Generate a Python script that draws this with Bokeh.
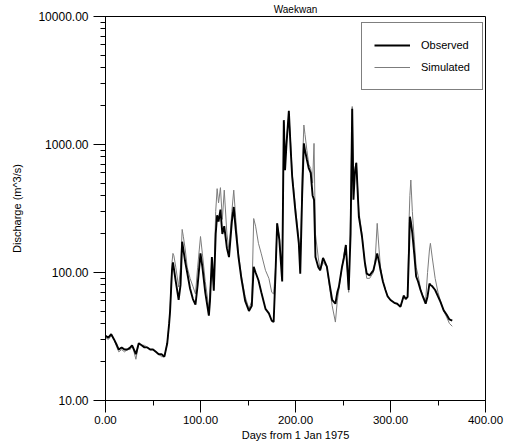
import math
from bokeh.plotting import figure
from bokeh.models import (LogTicker, SingleIntervalTicker, PrintfTickFormatter,
                          Legend, LegendItem, Range1d)
from bokeh.embed import file_html
from bokeh.resources import INLINE

title_text = "Waekwan"
x_label = "Days from 1 Jan 1975"
y_label = "Discharge (m^3/s)"
series_names = ["Observed", "Simulated"]

days = [0, 3, 6, 9, 12, 14, 17, 20, 23, 26, 28, 30, 32, 35, 38, 41, 44, 47, 50, 53,
        56, 59, 62, 65, 67, 68, 70, 71, 72, 74, 77, 79, 80.7, 82, 84, 86, 89, 92, 94.7, 97,
        100, 102, 105, 108.8, 110, 112, 114, 116, 117.5, 119, 121, 123, 125, 127.8, 130, 133, 135, 137, 140, 143,
        147, 151, 154, 156, 158, 161, 164, 168.4, 172, 175, 177, 179, 180.7, 183, 186, 187.7, 189, 190.5, 193, 195,
        196.5, 200, 203.5, 205, 207, 208.8, 210, 212, 214, 216, 218, 219.5, 221, 224, 226, 229, 233, 236, 238.6, 242,
        244, 245.6, 249, 251, 253, 256, 258, 259.7, 261, 262.5, 264, 266.7, 270, 273, 275, 278, 282, 284, 286, 288,
        289.5, 292, 294.7, 297, 300, 304, 307, 310.5, 314, 316, 318, 319.5, 320.4, 321.4, 323, 325, 327, 329, 331.6, 334,
        337, 339, 341, 342, 344, 347, 350, 352.6, 356, 359, 362, 365]

observed = [32, 31, 33, 30, 27, 25, 26, 25, 25, 26, 27, 25, 23, 28, 27, 26, 26, 25, 25, 24,
            23, 23, 22, 28, 40, 50, 104, 120, 107, 85, 61, 80, 174, 150, 120, 100, 75, 62, 56, 80,
            141, 110, 70, 46, 60, 132, 72, 200, 280, 250, 310, 200, 230, 155, 132, 250, 325, 220, 132, 90,
            60, 50, 55, 111, 100, 87, 70, 52, 48, 42, 41, 100, 242, 180, 85, 1550, 630, 1000, 1830, 900,
            560, 295, 169, 98, 400, 1020, 900, 760, 650, 600, 400, 370, 132, 110, 104, 130, 111, 80, 61, 57,
            70, 77, 111, 130, 164, 73, 200, 1900, 370, 600, 720, 273, 191, 120, 98, 95, 104, 120, 141, 120,
            104, 85, 73, 65, 61, 58, 57, 54, 66, 62, 64.5, 150, 273, 250, 202, 140, 93, 85, 73, 65,
            57, 65, 82, 80, 78, 73, 65, 59, 50.6, 47, 43, 42]

simulated = [31, 30, 32, 30, 26, 24, 25, 24, 25, 25, 27, 24, 21, 28, 27, 27, 26, 25, 25, 24,
             23, 22, 22, 28, 40, 52, 120, 141, 135, 110, 77, 110, 217, 190, 150, 110, 90, 78, 68, 110,
             191, 140, 85, 53, 70, 110, 80, 300, 452, 350, 460, 260, 440, 200, 150, 300, 440, 270, 140, 95,
             65, 52, 60, 264, 230, 169, 140, 104, 90, 70, 68, 110, 242, 190, 95, 1500, 700, 1100, 1700, 1000,
             600, 320, 180, 105, 600, 1420, 1200, 900, 700, 650, 500, 1020, 200, 130, 104, 120, 111, 75, 55, 41,
             60, 73, 111, 140, 164, 70, 300, 1980, 500, 650, 720, 300, 200, 115, 90, 90, 100, 130, 242, 150,
             110, 85, 73, 65, 61, 58, 57, 54, 66, 62, 65, 250, 400, 528, 300, 180, 110, 95, 75, 66,
             60, 100, 150, 169, 130, 90, 70, 60, 50, 45, 40, 38]

FONT = "Liberation Sans"

p = figure(width=505, height=445, y_axis_type="log",
           x_range=Range1d(0, 400), y_range=Range1d(10, 10000),
           output_backend="svg", toolbar_location=None,
           min_border_left=105, min_border_right=20, min_border_top=16, min_border_bottom=45)
p.title.text = title_text
p.title.align = "center"
p.title.text_font = FONT
p.title.text_font_size = "10px"
p.title.text_font_style = "normal"
p.title.text_color = "black"
p.title.standoff = 3
p.title.offset = 0
p.background_fill_color = "white"
p.border_fill_color = "white"
p.outline_line_color = "black"
p.outline_line_width = 1
p.outline_line_alpha = 1.0
p.xgrid.visible = False
p.ygrid.visible = False

r_sim = p.line(days, simulated, line_color="#7c7c7c", line_width=1)
r_obs = p.line(days, observed, line_color="black", line_width=1.9)

p.xaxis.ticker = SingleIntervalTicker(interval=100, num_minor_ticks=2)
p.xaxis.formatter = PrintfTickFormatter(format="%.2f")
p.yaxis.ticker = LogTicker(num_minor_ticks=10)
p.yaxis.formatter = PrintfTickFormatter(format="%.2f")
for ax in (p.xaxis[0], p.yaxis[0]):
    ax.axis_line_color = "black"
    ax.major_tick_line_color = "black"
    ax.minor_tick_line_color = "black"
    ax.major_tick_in = 0
    ax.major_tick_out = 12
    ax.minor_tick_in = 0
    ax.minor_tick_out = 5
    ax.major_label_text_font = FONT
    ax.major_label_text_color = "black"
    ax.axis_label_text_font = FONT
    ax.axis_label_text_font_style = "normal"
    ax.axis_label_text_font_size = "11px"
    ax.axis_label_text_color = "black"
p.xaxis.major_label_text_font_size = "11.5px"
p.xaxis.major_label_standoff = 3
p.xaxis.axis_label = x_label
p.xaxis.axis_label_standoff = 2
p.yaxis.major_label_text_font_size = "12px"
p.yaxis.major_label_standoff = 5
p.yaxis.axis_label = y_label
p.yaxis.axis_label_standoff = 12

legend = Legend(items=[LegendItem(label=series_names[0], renderers=[r_obs]),
                       LegendItem(label=series_names[1], renderers=[r_sim])],
                location=(256, 310))
legend.border_line_color = "black"
legend.border_line_width = 1
legend.background_fill_color = "white"
legend.background_fill_alpha = 1.0
legend.padding = 12
legend.spacing = 2
legend.margin = 0
legend.glyph_width = 36
legend.glyph_height = 20
legend.label_height = 20
legend.label_standoff = 11
legend.label_text_font = FONT
legend.label_text_font_size = "11px"
legend.label_text_color = "black"
p.add_layout(legend)

open("out.html", "w").write(file_html(p, INLINE))
